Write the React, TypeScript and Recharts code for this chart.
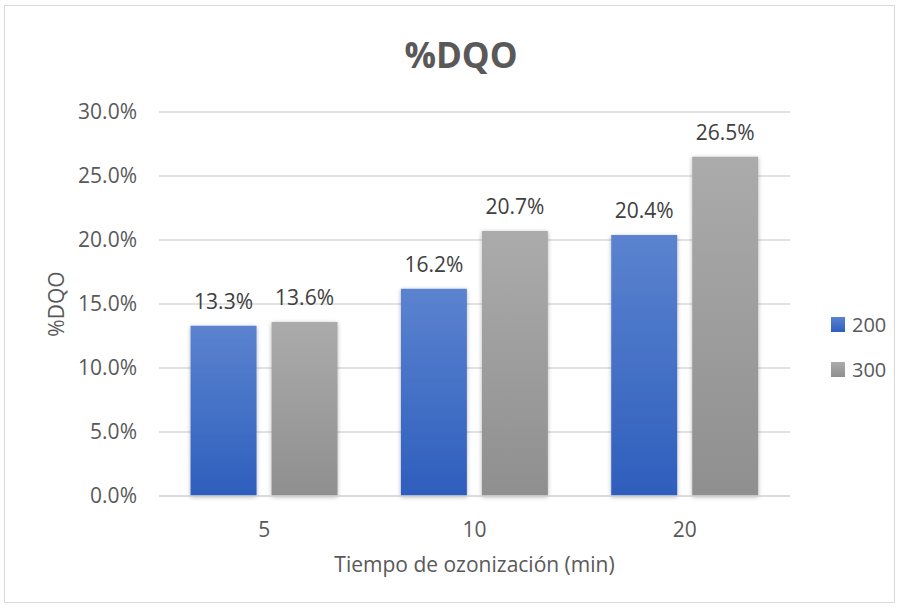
import React from 'react';
import { BarChart, Bar, XAxis, YAxis, CartesianGrid, LabelList } from 'recharts';

const categories = ['5', '10', '20'];
const series200 = [13.3, 16.2, 20.4];
const series300 = [13.6, 20.7, 26.5];
const yTicks = [0, 5, 10, 15, 20, 25, 30];
const seriesNames = ['200', '300'];

const data = categories.map((c, i) => ({ cat: c, s200: series200[i], s300: series300[i] }));

const FONT = '"Open Sans", sans-serif';
const FS = 21;

const fmt = (v: number) => `${v.toFixed(1)}%`;

const LegendBox = () => (
  <div
    style={{
      position: 'absolute',
      left: 831,
      top: 302,
      fontFamily: FONT,
      fontSize: 20,
      color: '#595959',
    }}
  >
    {seriesNames.map((n, i) => (
      <div key={n} style={{ display: 'flex', alignItems: 'center', height: 45 }}>
        <div
          style={{
            width: 14,
            height: 15,
            background: i === 0 ? 'linear-gradient(#5B83CF, #2E5EBD)' : 'linear-gradient(#ABABAB, #8F8F8F)',
            marginRight: 7,
          }}
        />
        <span>{n}</span>
      </div>
    ))}
  </div>
);

export default function App() {
  return (
    <div style={{ position: 'absolute', left: 0, top: 0, width: 900, height: 607, background: '#fff' }}>
      <div
        style={{
          position: 'absolute',
          left: 4,
          top: 5,
          width: 891,
          height: 598,
          border: '1px solid #D9D9D9',
          boxSizing: 'border-box',
        }}
      />
      <div
        style={{
          position: 'absolute',
          left: 0,
          top: 33,
          width: 922,
          textAlign: 'center',
          fontFamily: FONT,
          fontWeight: 700,
          fontSize: 35,
          color: '#595959',
          lineHeight: '44px',
        }}
      >
        %DQO
      </div>
      <BarChart
        width={900}
        height={607}
        data={data}
        margin={{ top: 112, right: 110, bottom: 0, left: 0 }}
        barCategoryGap="15%"
        barGap={15}
        style={{ position: 'absolute', left: 0, top: 0 }}
      >
        <defs>
          <linearGradient id="g200" x1="0" y1="0" x2="0" y2="1">
            <stop offset="0%" stopColor="#5B83CF" />
            <stop offset="100%" stopColor="#2E5EBD" />
          </linearGradient>
          <linearGradient id="g300" x1="0" y1="0" x2="0" y2="1">
            <stop offset="0%" stopColor="#ABABAB" />
            <stop offset="100%" stopColor="#8F8F8F" />
          </linearGradient>
          <filter id="shadow" x="-20%" y="-10%" width="140%" height="120%">
            <feDropShadow dx="0" dy="1" stdDeviation="2" floodColor="#000" floodOpacity="0.3" />
          </filter>
        </defs>
        <CartesianGrid vertical={false} stroke="#D9D9D9" strokeWidth={1.3} />
        <XAxis
          dataKey="cat"
          height={111}
          tickSize={0}
          tickMargin={26}
          axisLine={{ stroke: '#D9D9D9', strokeWidth: 1.3 }}
          tickLine={false}
          tick={{ fill: '#595959', fontSize: FS, fontFamily: FONT }}
          label={{
            content: ({ viewBox }: any) => (
              <text
                x={viewBox.x + viewBox.width / 2}
                y={viewBox.y + 68}
                textAnchor="middle"
                dominantBaseline="central"
                fill="#595959"
                fontSize={FS}
                fontFamily={FONT}
              >
                Tiempo de ozonización (min)
              </text>
            ),
          }}
        />
        <YAxis
          width={159}
          domain={[0, 30]}
          ticks={yTicks}
          tickFormatter={fmt}
          tickSize={0}
          tickMargin={22}
          axisLine={false}
          tickLine={false}
          tick={{ fill: '#595959', fontSize: FS, fontFamily: FONT }}
          label={{
            content: ({ viewBox }: any) => {
              const cx = viewBox.x + 56;
              const cy = viewBox.y + viewBox.height / 2;
              return (
                <text
                  x={cx}
                  y={cy}
                  textAnchor="middle"
                  dominantBaseline="central"
                  transform={`rotate(-90 ${cx} ${cy})`}
                  fill="#595959"
                  fontSize={FS}
                  fontFamily={FONT}
                >
                  %DQO
                </text>
              );
            },
          }}
        />
        <Bar dataKey="s200" name="200" fill="url(#g200)" filter="url(#shadow)" isAnimationActive={false}>
          <LabelList
            dataKey="s200"
            position="top"
            offset={17}
            formatter={(v: any) => fmt(Number(v))}
            style={{ fill: '#404040', fontSize: FS, fontFamily: FONT }}
          />
        </Bar>
        <Bar dataKey="s300" name="300" fill="url(#g300)" filter="url(#shadow)" isAnimationActive={false}>
          <LabelList
            dataKey="s300"
            position="top"
            offset={17}
            formatter={(v: any) => fmt(Number(v))}
            style={{ fill: '#404040', fontSize: FS, fontFamily: FONT }}
          />
        </Bar>
      </BarChart>
      <LegendBox />
    </div>
  );
}
